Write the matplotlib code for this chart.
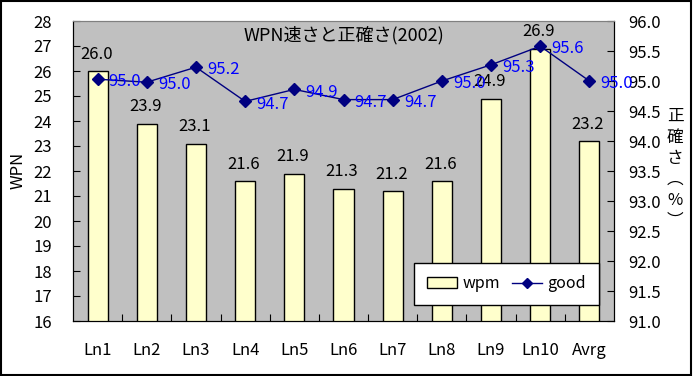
import matplotlib
matplotlib.use("Agg")
import matplotlib.pyplot as plt
from matplotlib.patches import Rectangle, Patch
from matplotlib.lines import Line2D

plt.rcParams['font.family'] = ['Noto Sans CJK JP', 'DejaVu Sans']

# data
categories = ['Ln1', 'Ln2', 'Ln3', 'Ln4', 'Ln5', 'Ln6', 'Ln7', 'Ln8', 'Ln9', 'Ln10', 'Avrg']
wpm = [26.0, 23.9, 23.1, 21.6, 21.9, 21.3, 21.2, 21.6, 24.9, 26.9, 23.2]
good = [95.03, 94.98, 95.23, 94.66, 94.86, 94.69, 94.69, 95.0, 95.27, 95.58, 95.0]

fs = 12

fig = plt.figure(figsize=(6.93, 3.76), dpi=100)
fig.patch.set_facecolor('white')
ax1 = fig.add_axes([73/693, 55/376, 541/693, 300/376])
ax2 = ax1.twinx()

x = list(range(len(categories)))
ax1.set_facecolor('#C0C0C0')
ax1.bar(x, wpm, width=0.41, color='#FFFFCC', edgecolor='black', linewidth=1, zorder=2)
ax1.set_ylim(16, 28)
ax1.set_xlim(-0.5, len(categories) - 0.5)
ax1.set_yticks(range(16, 29))
for xi, v in zip(x, wpm):
    ax1.annotate(f'{v:.1f}', (xi, v), xytext=(-1, 6), textcoords='offset points',
                 ha='center', va='bottom', fontsize=fs, color='black')

ax2.plot(x, good, color='#000080', marker='D', markersize=6, linewidth=1, zorder=3)
ax2.set_ylim(91.0, 96.0)
ax2.set_yticks([91.0 + 0.5 * i for i in range(11)])
ax2.set_yticklabels([f'{91.0 + 0.5 * i:.1f}' for i in range(11)])
for xi, v in zip(x, good):
    ax2.annotate(f'{v:.1f}', (xi, v), xytext=(8, -2), textcoords='offset points',
                 ha='left', va='center', fontsize=fs, color='#0000FF')

# category ticks at boundaries, labels at centers
ax1.set_xticks([i + 0.5 for i in range(len(categories) - 1)])
ax1.set_xticklabels([])
ax1.set_xticks(x, minor=True)
ax1.set_xticklabels(categories, minor=True)
ax1.tick_params(axis='x', which='major', direction='in', length=5, color='black')
ax1.tick_params(axis='x', which='minor', length=0, pad=15, labelsize=fs)
ax1.tick_params(axis='y', direction='in', length=5, pad=15, labelsize=fs)
ax2.tick_params(axis='y', direction='in', length=5, pad=10, labelsize=fs)

for ax in (ax1, ax2):
    for s in ax.spines.values():
        s.set_color('black')
    ax.spines['top'].set_color('#808080')

ax1.text(0.5, 0.953, 'WPN速さと正確さ(2002)', transform=ax1.transAxes,
         ha='center', va='center', fontsize=13)
fig.text(18/693, 1 - 170/376, 'WPN', rotation=90, ha='center', va='center', fontsize=fs)
ax2.text(1.113, 0.507, '正\n確\nさ\n︵\n%\n︶', transform=ax2.transAxes,
         ha='center', va='center', fontsize=fs, linespacing=1.3)

handles = [Patch(facecolor='#FFFFCC', edgecolor='black', linewidth=1),
           Line2D([], [], color='#000080', marker='D', markersize=5, linewidth=1)]
leg = ax2.legend(handles, ['wpm', 'good'], ncol=2, loc='lower right',
                 bbox_to_anchor=(0.972, 0.053), borderaxespad=0, fontsize=11.5,
                 frameon=True, fancybox=False, edgecolor='black', framealpha=1,
                 handlelength=1.9, columnspacing=0.7, handletextpad=0.35,
                 borderpad=0.8)
leg.get_frame().set_linewidth(1)

fig.patches.append(Rectangle((0.001, 0.002), 0.996, 0.996, transform=fig.transFigure,
                             fill=False, edgecolor='black', linewidth=1.5))

fig.savefig('out.png', dpi=100)
